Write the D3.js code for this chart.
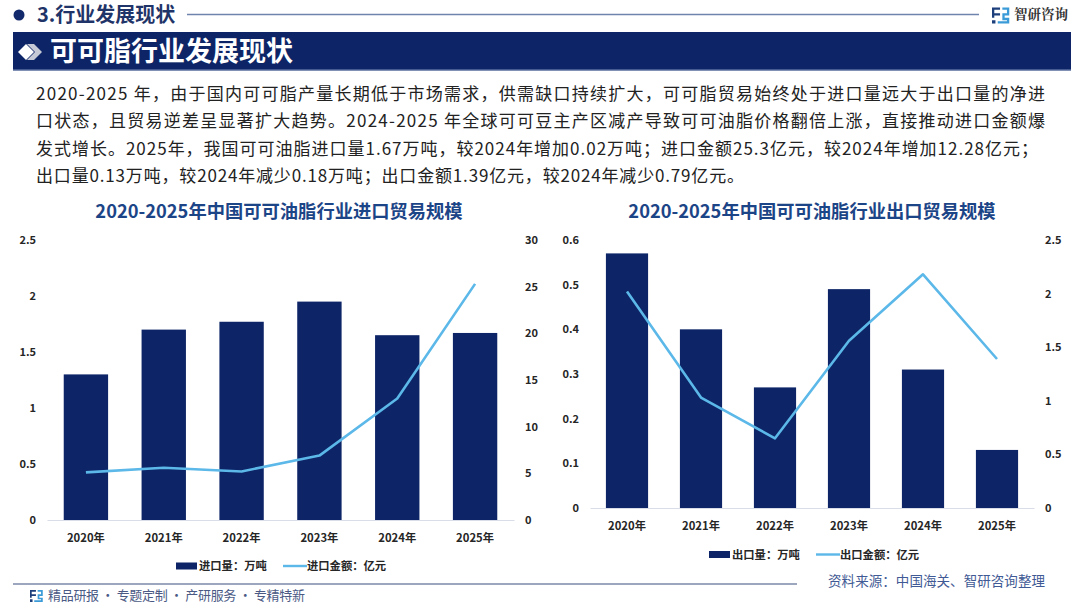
<!DOCTYPE html>
<html>
<head>
<meta charset="utf-8">
<script src="https://cdn.jsdelivr.net/npm/d3@7"></script>
<style>
  html, body { margin: 0; padding: 0; background: #fff; }
  svg { display: block; }
  text { font-family: "Noto Sans CJK SC", "Noto Sans", sans-serif; }
</style>
</head>
<body>
<script>
// chart data
const years = ["2020年", "2021年", "2022年", "2023年", "2024年", "2025年"];
const importVolume = [1.3, 1.7, 1.77, 1.95, 1.65, 1.67];
const importValue = [5.1, 5.6, 5.2, 6.9, 13.02, 25.3];
const exportVolume = [0.57, 0.4, 0.27, 0.49, 0.31, 0.13];
const exportValue = [2.02, 1.03, 0.65, 1.56, 2.18, 1.39];

const importVolumeTicks = [0, 0.5, 1, 1.5, 2, 2.5];
const importValueTicks = [0, 5, 10, 15, 20, 25, 30];
const exportVolumeTicks = [0, 0.1, 0.2, 0.3, 0.4, 0.5, 0.6];
const exportValueTicks = [0, 0.5, 1, 1.5, 2, 2.5];

const paragraph = [
  "2020-2025 年，由于国内可可脂产量长期低于市场需求，供需缺口持续扩大，可可脂贸易始终处于进口量远大于出口量的净进",
  "口状态，且贸易逆差呈显著扩大趋势。2024-2025 年全球可可豆主产区减产导致可可油脂价格翻倍上涨，直接推动进口金额爆",
  "发式增长。2025年，我国可可油脂进口量1.67万吨，较2024年增加0.02万吨；进口金额25.3亿元，较2024年增加12.28亿元；",
  "出口量0.13万吨，较2024年减少0.18万吨；出口金额1.39亿元，较2024年减少0.79亿元。"
];

const navy = "#0d2567";
const lineBlue = "#5bb8e8";
const width = 1080;
const height = 604;

const svg = d3.select("body").append("svg")
  .attr("width", width)
  .attr("height", height)
  .attr("viewBox", [0, 0, width, height]);

// header
svg.append("circle").attr("cx", 19).attr("cy", 15).attr("r", 5.5).attr("fill", "#12296b");
svg.append("text").attr("x", 37).attr("y", 22)
  .attr("font-size", 20).attr("font-weight", 700).attr("fill", "#1f3468")
  .text("3.行业发展现状");
svg.append("line").attr("x1", 187).attr("x2", 979).attr("y1", 14.5).attr("y2", 14.5)
  .attr("stroke", "#6f84ad").attr("stroke-width", 1.4);

// company mark
function drawLogo(x, y, s) {
  const g = svg.append("g").attr("transform", `translate(${x},${y}) scale(${s})`);
  g.append("path").attr("d", "M0 0H7V2H2V5H7V7H2V9H0Z M0 11H3V14H0Z").attr("fill", "#1d3f7c");
  g.append("path").attr("d", "M9 0H15V7H11V9H15V14H5V12H13V11H9V5H13V2H9Z").attr("fill", "#3a9bd8");
}
drawLogo(992, 7.5, 1.15);
svg.append("text").attr("x", 1014).attr("y", 19)
  .attr("font-size", 13.5).attr("font-weight", 700).attr("fill", "#333")
  .style("font-family", "'Noto Serif CJK SC','Noto Sans CJK SC',sans-serif")
  .text("智研咨询");

// title banner
svg.append("rect").attr("x", 13).attr("y", 32).attr("width", 1058).attr("height", 38.5).attr("fill", "#0d2567");
svg.append("line").attr("x1", 13).attr("x2", 1071).attr("y1", 70).attr("y2", 70).attr("stroke", "#7f90b8").attr("stroke-width", 1);
svg.append("path").attr("d", "M18 52L26 44L34 52L26 60Z").attr("fill", "#ffffff");
svg.append("path").attr("d", "M27 44L34 44L42 52L34 60L27 60L35 52Z").attr("fill", "#c6cad6");
svg.append("text").attr("x", 50).attr("y", 61)
  .attr("font-size", 27).attr("font-weight", 700).attr("fill", "#fff")
  .text("可可脂行业发展现状");

// body text
const lineWidths = [1009, 1009, 1002, 708];
svg.append("g").selectAll("text").data(paragraph).join("text")
  .attr("x", 36)
  .attr("y", (d, i) => 100 + i * 27.3)
  .attr("font-size", 17)
  .attr("fill", "#222")
  .attr("textLength", (d, i) => lineWidths[i])
  .attr("lengthAdjust", "spacing")
  .text(d => d);

// one combo chart: navy bars on the left axis, blue line on the right axis
function drawCombo(opts) {
  const x = d3.scaleBand().domain(years).range([opts.left, opts.right])
    .paddingInner(opts.padding).paddingOuter(opts.padding / 2);
  const yLeft = d3.scaleLinear().domain(d3.extent(opts.leftTicks)).range([opts.bottom, opts.top]);
  const yRight = d3.scaleLinear().domain(d3.extent(opts.rightTicks)).range([opts.bottom, opts.top]);

  svg.append("text").attr("x", opts.titleX).attr("y", 217.5)
    .attr("text-anchor", "middle").attr("font-size", 18.3).attr("font-weight", 700)
    .attr("fill", "#1c4587").text(opts.title);

  svg.append("g").selectAll("rect").data(opts.bars).join("rect")
    .attr("x", (d, i) => x(years[i]))
    .attr("y", d => yLeft(d))
    .attr("width", x.bandwidth())
    .attr("height", d => yLeft(0) - yLeft(d))
    .attr("fill", navy);

  // baseline and year labels
  const xAxis = svg.append("g").attr("transform", `translate(0,${opts.bottom})`)
    .call(d3.axisBottom(x).tickSize(0).tickPadding(14));
  xAxis.select(".domain").attr("stroke", "#d9dde8");
  xAxis.selectAll("text").attr("font-size", 11.3).attr("font-weight", 700).attr("fill", "#262626");

  const leftAxis = svg.append("g").attr("transform", `translate(${opts.leftLabelX},0)`)
    .call(d3.axisLeft(yLeft).tickValues(opts.leftTicks).tickFormat(d => d).tickSize(0).tickPadding(0));
  leftAxis.select(".domain").remove();
  leftAxis.selectAll("text").attr("font-size", 11).attr("font-weight", 700).attr("fill", "#262626");

  const rightAxis = svg.append("g").attr("transform", `translate(${opts.rightLabelX},0)`)
    .call(d3.axisRight(yRight).tickValues(opts.rightTicks).tickFormat(d => d).tickSize(0).tickPadding(0));
  rightAxis.select(".domain").remove();
  rightAxis.selectAll("text").attr("font-size", 11).attr("font-weight", 700).attr("fill", "#262626");

  const line = d3.line()
    .x((d, i) => x(years[i]) + x.bandwidth() / 2)
    .y(d => yRight(d));
  svg.append("path").datum(opts.line)
    .attr("d", line)
    .attr("fill", "none")
    .attr("stroke", lineBlue)
    .attr("stroke-width", 2.6)
    .attr("stroke-linejoin", "round");

  // legend
  const lg = svg.append("g").attr("transform", `translate(${opts.legendX},${opts.legendY})`);
  lg.append("rect").attr("x", 0).attr("y", -3.5).attr("width", 21).attr("height", 7).attr("fill", navy);
  lg.append("text").attr("x", 23).attr("y", 4).attr("font-size", 11.3).attr("font-weight", 700).attr("fill", "#262626").text(opts.barName);
  lg.append("line").attr("x1", 107).attr("x2", 131).attr("y1", 0).attr("y2", 0).attr("stroke", lineBlue).attr("stroke-width", 2.4);
  lg.append("text").attr("x", 131).attr("y", 4).attr("font-size", 11.3).attr("font-weight", 700).attr("fill", "#262626").text(opts.lineName);
}

drawCombo({
  title: "2020-2025年中国可可油脂行业进口贸易规模", titleX: 279,
  left: 47, right: 514, top: 240, bottom: 520, padding: 0.43,
  leftLabelX: 36, rightLabelX: 525,
  leftTicks: importVolumeTicks, rightTicks: importValueTicks,
  bars: importVolume, line: importValue,
  legendX: 176, legendY: 566, barName: "进口量：万吨", lineName: "进口金额：亿元"
});

drawCombo({
  title: "2020-2025年中国可可油脂行业出口贸易规模", titleX: 812,
  left: 590, right: 1034, top: 240, bottom: 508, padding: 0.43,
  leftLabelX: 579, rightLabelX: 1045,
  leftTicks: exportVolumeTicks, rightTicks: exportValueTicks,
  bars: exportVolume, line: exportValue,
  legendX: 709, legendY: 554.5, barName: "出口量：万吨", lineName: "出口金额：亿元"
});

// footer
svg.append("line").attr("x1", 13).attr("x2", 797).attr("y1", 584).attr("y2", 584)
  .attr("stroke", "#3a4f80").attr("stroke-width", 1.2);
drawLogo(30, 590, 0.85);
svg.append("text").attr("x", 48).attr("y", 600)
  .attr("font-size", 13).attr("fill", "#4a5a85")
  .attr("textLength", 257)
  .text("精品研报 · 专题定制 · 产研服务 · 专精特新");
svg.append("text").attr("x", 828).attr("y", 586)
  .attr("font-size", 13.5).attr("fill", "#3f5a94")
  .attr("textLength", 217)
  .text("资料来源：中国海关、智研咨询整理");
</script>
</body>
</html>
